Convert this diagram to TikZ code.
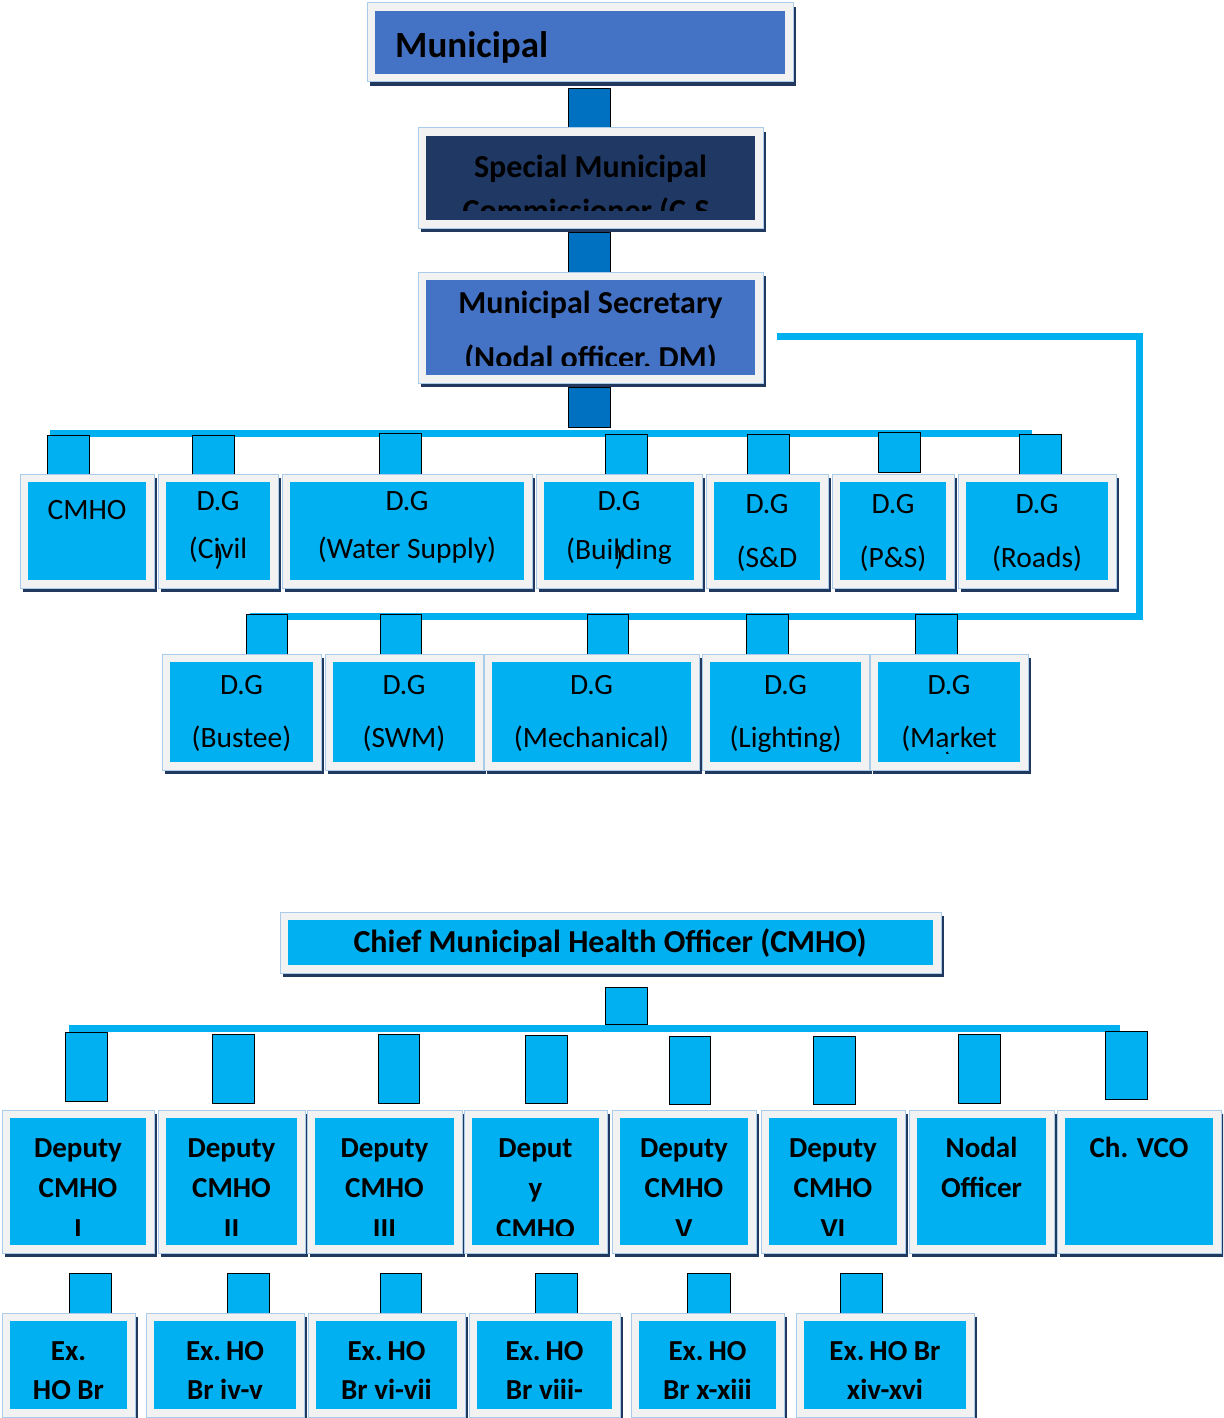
\documentclass[tikz,border=0pt]{standalone}
\usepackage{fontspec}
\setmainfont{Carlito}
\definecolor{lb}{HTML}{00B0F0}
\definecolor{mblue}{HTML}{4472C4}
\definecolor{navy}{HTML}{1F3864}
\definecolor{shadowc}{HTML}{22395F}
\definecolor{dblue}{HTML}{0070C0}
\definecolor{framec}{HTML}{F2F2F2}
\definecolor{edgec}{HTML}{A9CCEB}
\tikzset{
  inbox/.style={draw=none, inner sep=0, outer sep=0, rectangle},
  sqbox/.style={draw=black, line width=0.9, inner sep=0, outer sep=0, rectangle},
  bar/.style={draw=lb, line width=7, line cap=butt, line join=miter},
  tr/.style={anchor=base, inner sep=0, font=\fontsize{29.5}{29.5}\selectfont},
  tb/.style={anchor=base, inner sep=0, font=\bfseries\fontsize{29}{29}\selectfont},
  th/.style={anchor=base, inner sep=0, font=\bfseries\fontsize{32}{32}\selectfont},
}
% #1 name, #2 x1, #3 y1, #4 x2, #5 y2, #6 inner fill
\newcommand\obox[6]{%
  \fill[shadowc] (#2+3,#3+4) rectangle (#4+3,#5+4);
  \filldraw[fill=framec, draw=edgec, line width=1] (#2,#3) rectangle (#4,#5);
  \node[inbox, fill=#6, minimum width={#4-#2-16}, minimum height={#5-#3-16}] (#1) at ({(#2+#4)/2},{(#3+#5)/2}) {};
}
% #1 name, #2 x1, #3 y1, #4 x2, #5 y2, #6 fill
\newcommand\sqc[6]{%
  \node[sqbox, fill=#6, minimum width={#4-#2}, minimum height={#5-#3}] (#1) at ({(#2+#4)/2},{(#3+#5)/2}) {};
}
\begin{document}
\begin{tikzpicture}[x=1pt,y=-1pt]
\useasboundingbox (0,0) rectangle (1223,1418);
\clip (0,0) rectangle (1223,1418);

% ---------- connector bars ----------
\coordinate (h1a) at (50,433);
\coordinate (h1b) at (1032,433);
\draw[bar] (h1a) -- (h1b);
\coordinate (r1) at (777,336);
\coordinate (r2) at (1139,336);
\coordinate (r3) at (1139,616);
\coordinate (r4) at (250,616);
\draw[bar] (r1) -- (r2) -- (r3) -- (r4);
\coordinate (h3a) at (69,1028);
\coordinate (h3b) at (1120,1028);
\draw[bar] (h3a) -- (h3b);

% ---------- top chain ----------
\sqc{k1}{568}{88}{610}{128}{dblue}
\sqc{k2}{568}{232}{610}{272}{dblue}
\sqc{k3}{568}{387}{610}{427}{dblue}
\obox{mun}{367}{3}{793}{82}{mblue}
\obox{smc}{418}{128}{763}{228}{navy}
\obox{sec}{418}{272}{763}{383}{mblue}

\node[anchor=base west, inner sep=0, font=\bfseries\fontsize{37}{37}\selectfont] (mun-1) at (395,58) {Municipal};
\begin{scope}
  \clip (426,137) rectangle (755,210);
  \node[th] (smc-1) at (590.5,177) {Special Municipal};
  \node[th] (smc-2) at (590.5,221) {Commissioner (C.S.};
\end{scope}
\begin{scope}
  \clip (426,280) rectangle (755,365);
  \node[th] (sec-1) at (590.5,313) {Municipal Secretary};
  \node[th] (sec-2) at (590.5,368) {(Nodal officer, DM)};
\end{scope}

% ---------- row 1 ----------
\sqc{s1}{47}{435}{89}{476}{lb}
\sqc{s2}{192}{435}{234}{476}{lb}
\sqc{s3}{379}{433}{421}{474}{lb}
\sqc{s4}{605}{434}{647}{474}{lb}
\sqc{s5}{747}{434}{789}{474}{lb}
\sqc{s6}{878}{432}{920}{472}{lb}
\sqc{s7}{1019}{434}{1061}{474}{lb}
\obox{cmho}{20}{474}{154}{588}{lb}
\obox{civ}{158}{474}{278}{588}{lb}
\obox{wat}{282}{474}{532}{588}{lb}
\obox{bld}{536}{474}{702}{588}{lb}
\obox{snd}{706}{474}{828}{588}{lb}
\obox{pns}{832}{474}{954}{588}{lb}
\obox{rds}{958}{474}{1116}{588}{lb}

\node[tr] (cmho-1) at (87,519) {CMHO};
\node[tr] (civ-1) at (218,510) {D.G};
\node[tr] (civ-2) at (218,558) {(Civil};
\begin{scope}
  \clip (166,482) rectangle (270,570);
  \node[tr] (civ-3) at (219,565) {)};
\end{scope}
\node[tr] (wat-1) at (407,510) {D.G};
\node[tr] (wat-2) at (407,558) {(Water Supply)};
\node[tr] (bld-1) at (619,510) {D.G};
\node[tr] (bld-2) at (619,559) {(Building};
\begin{scope}
  \clip (544,482) rectangle (694,570);
  \node[tr] (bld-3) at (619,565) {)};
\end{scope}
\node[tr] (snd-1) at (767,513) {D.G};
\node[tr] (snd-2) at (767,567) {(S\&D};
\node[tr] (pns-1) at (893,513) {D.G};
\node[tr] (pns-2) at (893,567) {(P\&S)};
\node[tr] (rds-1) at (1037,513) {D.G};
\node[tr] (rds-2) at (1037,567) {(Roads)};

% ---------- row 2 ----------
\sqc{t1}{246}{614}{287}{654}{lb}
\sqc{t2}{380}{614}{421}{654}{lb}
\sqc{t3}{587}{614}{628}{654}{lb}
\sqc{t4}{746}{614}{788}{654}{lb}
\sqc{t5}{915}{614}{957}{654}{lb}
\obox{bus}{162}{654}{321}{770}{lb}
\obox{swm}{325}{654}{483}{770}{lb}
\obox{mec}{484}{654}{699}{770}{lb}
\obox{lgt}{702}{654}{869}{770}{lb}
\obox{mkt}{870}{654}{1028}{770}{lb}

\node[tr] (bus-1) at (241.5,694) {D.G};
\node[tr] (bus-2) at (241.5,747) {(Bustee)};
\node[tr] (swm-1) at (404,694) {D.G};
\node[tr] (swm-2) at (404,747) {(SWM)};
\node[tr] (mec-1) at (591.5,694) {D.G};
\node[tr] (mec-2) at (591.5,747) {(Mechanical)};
\node[tr] (lgt-1) at (785.5,694) {D.G};
\node[tr] (lgt-2) at (785.5,747) {(Lighting)};
\node[tr] (mkt-1) at (949,694) {D.G};
\node[tr] (mkt-2) at (949,747) {(Market};
\begin{scope}
  \clip (878,662) rectangle (1020,753);
  \node[tr] (mkt-3) at (949,773) {)};
\end{scope}

% ---------- CMHO section ----------
\obox{chief}{280}{912}{941}{973}{lb}
\node[th] (chief-1) at (610,952) {Chief Municipal Health Officer (CMHO)};
\sqc{u0}{605}{987}{647}{1024}{lb}
\sqc{u1}{65}{1032}{107}{1101}{lb}
\sqc{u2}{212}{1034}{254}{1103}{lb}
\sqc{u3}{378}{1034}{419}{1103}{lb}
\sqc{u4}{525}{1035}{567}{1103}{lb}
\sqc{u5}{669}{1036}{710}{1104}{lb}
\sqc{u6}{813}{1036}{855}{1104}{lb}
\sqc{u7}{958}{1034}{1000}{1103}{lb}
\sqc{u8}{1105}{1031}{1147}{1099}{lb}

\obox{d1}{2}{1110}{154}{1253}{lb}
\obox{d2}{158}{1110}{305}{1253}{lb}
\obox{d3}{307}{1110}{462}{1253}{lb}
\obox{d4}{464}{1110}{607}{1253}{lb}
\obox{d5}{612}{1110}{756}{1253}{lb}
\obox{d6}{761}{1110}{905}{1253}{lb}
\obox{nod}{909}{1110}{1054}{1253}{lb}
\obox{vco}{1057}{1110}{1221}{1253}{lb}

\begin{scope}
  \clip (0,1118) rectangle (1223,1235);
  \node[tb] (d1-1) at (78,1157) {Deputy};
  \node[tb] (d1-2) at (78,1197) {CMHO};
  \node[tb] (d1-3) at (78,1238) {I};
  \node[tb] (d2-1) at (231.5,1157) {Deputy};
  \node[tb] (d2-2) at (231.5,1197) {CMHO};
  \node[tb] (d2-3) at (231.5,1238) {II};
  \node[tb] (d3-1) at (384.5,1157) {Deputy};
  \node[tb] (d3-2) at (384.5,1197) {CMHO};
  \node[tb] (d3-3) at (384.5,1238) {III};
  \node[tb] (d4-1) at (535.5,1157) {Deput};
  \node[tb] (d4-2) at (535.5,1197) {y};
  \node[tb] (d4-3) at (535.5,1238) {CMHO};
  \node[tb] (d5-1) at (684,1157) {Deputy};
  \node[tb] (d5-2) at (684,1197) {CMHO};
  \node[tb] (d5-3) at (684,1238) {V};
  \node[tb] (d6-1) at (833,1157) {Deputy};
  \node[tb] (d6-2) at (833,1197) {CMHO};
  \node[tb] (d6-3) at (833,1238) {VI};
  \node[tb] (nod-1) at (981.5,1157) {Nodal};
  \node[tb] (nod-2) at (981.5,1197) {Officer};
  \node[tb] (vco-1) at (1139,1157) {Ch. VCO};
\end{scope}

% ---------- Ex. HO row ----------
\sqc{v1}{69}{1273}{111}{1313}{lb}
\sqc{v2}{227}{1273}{269}{1313}{lb}
\sqc{v3}{380}{1273}{421}{1313}{lb}
\sqc{v4}{535}{1273}{577}{1313}{lb}
\sqc{v5}{687}{1273}{730}{1313}{lb}
\sqc{v6}{840}{1273}{882}{1313}{lb}
\obox{e1}{2}{1313}{135}{1417}{lb}
\obox{e2}{146}{1313}{304}{1417}{lb}
\obox{e3}{308}{1313}{465}{1417}{lb}
\obox{e4}{469}{1313}{620}{1417}{lb}
\obox{e5}{631}{1313}{784}{1417}{lb}
\obox{e6}{796}{1313}{974}{1417}{lb}

\node[tb] (e1-1) at (68.5,1360) {Ex.};
\node[tb] (e1-2) at (68.5,1399) {HO Br};
\node[tb] (e2-1) at (225,1360) {Ex.\,HO};
\node[tb] (e2-2) at (225,1399) {Br iv-v};
\node[tb] (e3-1) at (386.5,1360) {Ex.\,HO};
\node[tb] (e3-2) at (386.5,1399) {Br vi-vii};
\node[tb] (e4-1) at (544.5,1360) {Ex.\,HO};
\node[tb] (e4-2) at (544.5,1399) {Br viii-};
\node[tb] (e5-1) at (707.5,1360) {Ex.\,HO};
\node[tb] (e5-2) at (707.5,1399) {Br x-xiii};
\node[tb] (e6-1) at (885,1360) {Ex.\,HO Br};
\node[tb] (e6-2) at (885,1399) {xiv-xvi};
\end{tikzpicture}
\end{document}
